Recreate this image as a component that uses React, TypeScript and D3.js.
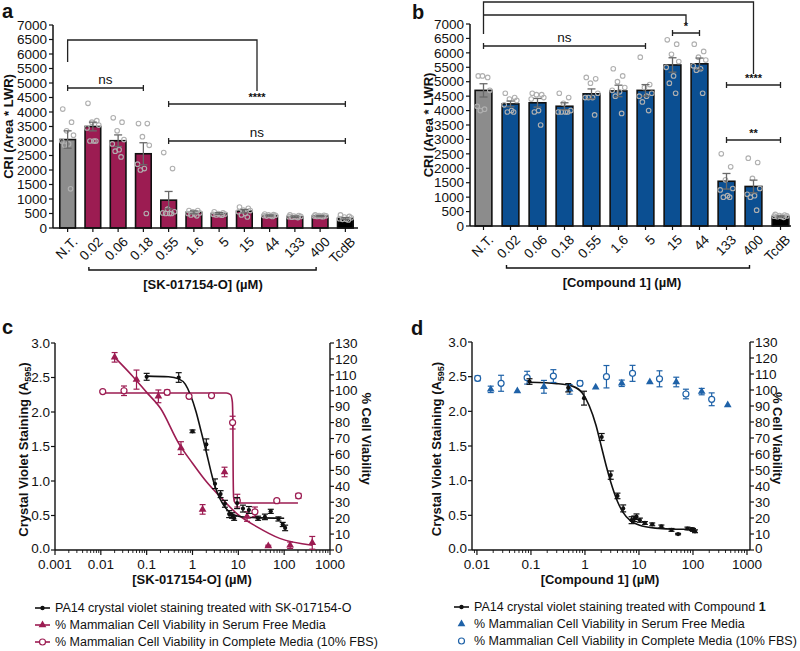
import React from "react";
import * as d3 from "d3";

const FONT = "'Liberation Sans', Arial, Helvetica, sans-serif";
const MAGENTA = "#9c1c52";
const BLUE_BAR = "#0b4f92";
const BLUE = "#1f62a8";
const GREY_BAR = "#8c8c8c";
const ERR_GREY = "#6a6a6a";
const PT_GREY = "#b0b0b0";

// ---------- Panels a / b (bar charts) ----------
const categories = ["N.T.", "0.02", "0.06", "0.18", "0.55", "1.6", "5", "15", "44", "133", "400", "TcdB"];
const barTicks = d3.range(0, 7001, 500);

const meanA = [3050, 3500, 3010, 2560, 960, 540, 500, 580, 430, 390, 410, 330];
const semA = [300, 150, 200, 380, 300, 50, 30, 60, 20, 25, 20, 30];
const pointsA = [
  [4100, 3650, 3350, 3200, 3000, 2900, 2850, 1350],
  [4300, 3700, 3650, 3550, 3450, 3000, 3000, 3000],
  [3800, 3650, 3350, 3050, 2900, 2700, 2650, 2450],
  [3600, 3600, 3150, 2850, 2200, 2050, 2000, 500],
  [2600, 2050, 650, 560, 520, 500, 500, 500],
  [600, 600, 560, 520, 500, 480, 450, 420],
  [560, 520, 500, 480, 470, 460, 450, 440],
  [720, 680, 620, 600, 560, 500, 450, 380],
  [480, 460, 450, 440, 430, 420, 410, 400],
  [450, 430, 410, 400, 390, 380, 370, 360],
  [450, 440, 430, 420, 410, 400, 400, 390],
  [450, 400, 380, 350, 320, 300, 300, 280],
];

const meanB = [4700, 4230, 4270, 4150, 4580, 4680, 4700, 5580, 5620, 1550, 1370, 330];
const semB = [230, 100, 150, 120, 170, 200, 200, 250, 200, 270, 220, 20];
const pointsB = [
  [5200, 5150, 5200, 4700, 4150, 4050, 4000],
  [4600, 4450, 4400, 4350, 4200, 4000, 3950, 3950],
  [4600, 4550, 4550, 4450, 4400, 4000, 3950, 3500],
  [4600, 4450, 4250, 4000, 3950, 3950, 3950, 3950],
  [5150, 5100, 4950, 4600, 4450, 4450, 4450, 3850],
  [5450, 5200, 5000, 4800, 4700, 4650, 4500, 3900],
  [5850, 4900, 4800, 4600, 4500, 4500, 4300, 4000],
  [6450, 6300, 5950, 5700, 5500, 5200, 4950, 4600],
  [6300, 6050, 5850, 5750, 5550, 5450, 5400, 4600],
  [2500, 2050, 1600, 1300, 1250, 1050, 1000, 1000],
  [2350, 2200, 1650, 1300, 1100, 1050, 1000, 550],
  [400, 380, 360, 350, 340, 330, 320, 300],
];

// ---------- Panel c ----------
const cBlackX = [0.1, 0.5, 1.0, 2.0, 3.1, 4.1, 5.1, 6.3, 7.3, 8.1, 9.4, 12.6, 17, 27, 38, 51, 75, 93, 105];
const cBlackY = [2.51, 2.5, 1.72, 1.53, 0.96, 0.81, 0.67, 0.52, 0.5, 0.46, 0.68, 0.6, 0.58, 0.46, 0.48, 0.56, 0.45, 0.37, 0.32];
const cBlackErr = [0.05, 0.07, 0.02, 0.08, 0.07, 0.05, 0.05, 0.05, 0.04, 0.03, 0.08, 0.05, 0.05, 0.03, 0.04, 0.03, 0.03, 0.03, 0.04];
const cBlackFitX = [0.1, 0.3, 0.5, 0.7, 0.9, 1.2, 1.5, 2, 2.5, 3, 4, 5, 7, 10, 20, 100];
const cBlackFitY = [2.52, 2.51, 2.48, 2.4, 2.25, 2.0, 1.75, 1.42, 1.15, 0.95, 0.74, 0.63, 0.53, 0.49, 0.47, 0.46];

const cSerumX = [0.02, 0.06, 0.18, 0.56, 1.66, 5.0, 15.5, 45, 135, 410];
const cSerumY = [121, 107, 96.5, 64, 25.5, 49, 21, 2.5, 3, 4.5];
const cSerumErr = [3, 6, 4, 4, 3, 3, 3, 0.5, 2, 4];
const cSerumFitX = [0.02, 0.05, 0.1, 0.2, 0.5, 1, 2, 4, 10, 25, 80, 410];
const cSerumFitY = [121, 109, 99, 89, 67, 54.5, 43, 33.5, 22, 14.7, 7.3, 3];

const cCompleteX = [0.011, 0.032, 0.28, 0.84, 2.6, 7.5, 9.5, 23, 69, 205];
const cCompleteY = [99.5, 100, 99, 96.5, 97, 80, 31, 24, 31, 34];
const cCompleteErr = [0.5, 3, 1.5, 0.5, 0.5, 4, 4, 3, 0.5, 1.5];
const cCompleteFitX = [0.011, 5.5, 6.8, 7.4, 7.6, 7.7, 7.9, 8.5, 10, 200];
const cCompleteFitY = [98.6, 98.6, 97.5, 93, 80, 50, 33, 29.8, 29.5, 29.5];

// ---------- Panel d ----------
const dBlackX = [0.094, 0.49, 0.96, 2.04, 3.0, 4.0, 5.1, 7.3, 8.2, 9.0, 10.4, 12.9, 17.6, 26, 40, 53, 79, 95, 100, 109];
const dBlackY = [2.43, 2.34, 2.19, 1.63, 1.08, 0.78, 0.6, 0.43, 0.45, 0.48, 0.43, 0.39, 0.37, 0.34, 0.29, 0.23, 0.31, 0.3, 0.29, 0.27];
const dBlackErr = [0.04, 0.06, 0.1, 0.05, 0.06, 0.04, 0.05, 0.05, 0.04, 0.04, 0.03, 0.02, 0.02, 0.02, 0.02, 0.01, 0.02, 0.02, 0.02, 0.02];
const dBlackFitX = [0.094, 0.3, 0.6, 0.9, 1.2, 1.6, 2, 2.5, 3, 4, 5, 7, 10, 20, 50, 100];
const dBlackFitY = [2.42, 2.4, 2.36, 2.26, 2.08, 1.8, 1.5, 1.2, 0.98, 0.7, 0.55, 0.42, 0.36, 0.315, 0.3, 0.3];

const dSerumX = [0.018, 0.056, 0.174, 0.52, 1.58, 4.8, 15.9, 49, 145, 440];
const dSerumY = [100.4, 99.4, 102, 100.4, 101.7, 104.2, 105, 105, 99, 90.6];
const dSerumErr = [2, 0, 4, 3, 0, 2, 0, 3, 2, 0];

const dCompleteX = [0.0103, 0.028, 0.085, 0.26, 0.81, 2.5, 7.6, 24, 74, 222];
const dCompleteY = [107.3, 104.2, 107.7, 108.7, 104.2, 108.3, 110.4, 107, 97.5, 94.2];
const dCompleteErr = [1.5, 5, 4, 4, 1.5, 7, 5, 5, 3, 4];

const jitter = [-5, 4, -1, 6, -6, 1, -3, 3];

type Bracket = { a: number; b: number; y: number; label: string; bold?: boolean };

function BarPanel(props: {
  axisX: number; x0: number; x1: number; yTop: number; yBot: number; axisEnd: number;
  means: number[]; sems: number[]; points: number[][]; color: string;
  yLabelX: number; xTitle: string; xTitleX: number; underBracket: [number, number];
  brackets: Bracket[]; extra: React.ReactNode;
}) {
  const { axisX, x0, x1, yTop, yBot, means, sems, points, color } = props;
  const x = d3.scaleBand<string>().domain(categories).range([x0, x1]).paddingInner(0.38).paddingOuter(0.19);
  const y = d3.scaleLinear().domain([0, 7000]).range([yBot, yTop]);
  const bw = x.bandwidth();
  const cx = (i: number) => (x(categories[i]) as number) + bw / 2;
  const fill = (i: number) => (i === 0 ? GREY_BAR : i === categories.length - 1 ? "#000" : color);
  return (
    <g fontFamily={FONT}>
      {means.map((m, i) => (
        <rect key={"b" + i} x={cx(i) - bw / 2} y={y(m)} width={bw} height={yBot - y(m)} fill={fill(i)} stroke="#111" strokeWidth={1.6} />
      ))}
      {points.map((ps, i) =>
        ps.map((p, j) => (
          <circle key={"p" + i + "-" + j} cx={cx(i) + jitter[j % jitter.length] * bw / 16} cy={y(p)} r={2.3} fill="none" stroke={PT_GREY} strokeWidth={1.1} />
        ))
      )}
      {means.map((m, i) => (
        <g key={"e" + i} stroke={ERR_GREY} strokeWidth={1.3}>
          <line x1={cx(i)} x2={cx(i)} y1={y(m - sems[i])} y2={y(m + sems[i])} />
          <line x1={cx(i) - 4} x2={cx(i) + 4} y1={y(m + sems[i])} y2={y(m + sems[i])} />
          <line x1={cx(i) - 4} x2={cx(i) + 4} y1={y(m - sems[i])} y2={y(m - sems[i])} />
        </g>
      ))}
      <line x1={axisX} x2={axisX} y1={yTop} y2={yBot} stroke="#111" strokeWidth={1.5} />
      <line x1={axisX} x2={props.axisEnd} y1={yBot} y2={yBot} stroke="#111" strokeWidth={1.5} />
      {barTicks.map((t) => (
        <g key={"t" + t}>
          <line x1={axisX - 4} x2={axisX} y1={y(t)} y2={y(t)} stroke="#111" strokeWidth={1.2} />
          <text x={axisX - 6} y={y(t)} dy="0.35em" textAnchor="end" fontSize={13.5} fill="#111">{t}</text>
        </g>
      ))}
      {categories.map((c, i) => (
        <g key={"xl" + i}>
          <line x1={cx(i)} x2={cx(i)} y1={yBot} y2={yBot + 4} stroke="#111" strokeWidth={1.2} />
          <text transform={`translate(${cx(i) + 4},${yBot + 8}) rotate(-45)`} textAnchor="end" dy="0.7em" fontSize={13.5} fill="#111">{c}</text>
        </g>
      ))}
      <text transform={`translate(${props.yLabelX},${(yTop + yBot) / 2}) rotate(-90)`} textAnchor="middle" fontSize={13} fontWeight="bold" fill="#111">CRI (Area * LWR)</text>
      <path d={`M${cx(props.underBracket[0]) - 4},${yBot + 39} V${yBot + 42} H${cx(props.underBracket[1]) - 4} V${yBot + 39}`} fill="none" stroke="#111" strokeWidth={1.4} />
      <text x={props.xTitleX} y={yBot + 61} textAnchor="middle" fontSize={13} fontWeight="bold" fill="#111">{props.xTitle}</text>
      {props.brackets.map((br, k) => (
        <g key={"br" + k}>
          <path d={`M${cx(br.a)},${br.y - 3} V${br.y + 3} M${cx(br.a)},${br.y} H${cx(br.b)} M${cx(br.b)},${br.y - 3} V${br.y + 3}`} fill="none" stroke="#222" strokeWidth={1.3} />
          <text x={(cx(br.a) + cx(br.b)) / 2} y={br.y - (br.bold ? 3 : 4)} textAnchor="middle" fontSize={br.bold ? 11 : 13.5} fontWeight={br.bold ? "bold" : "normal"} fill="#111">{br.label}</text>
        </g>
      ))}
      {props.extra}
    </g>
  );
}

function logTicks(d0: number, d1: number) {
  const out: { v: number; major: boolean }[] = [];
  for (let k = Math.floor(Math.log10(d0)); k <= Math.ceil(Math.log10(d1)); k++) {
    for (let m = 1; m <= 9; m++) {
      const v = m * Math.pow(10, k);
      if (v >= d0 * 0.999 && v <= d1 * 1.001) out.push({ v, major: m === 1 });
    }
  }
  return out;
}

function fmtLog(v: number) {
  if (v >= 1) return String(Math.round(v));
  return String(+v.toPrecision(1));
}

type Series = { xs: number[]; ys: number[]; errs: number[]; axis: "L" | "R"; color: string; marker: "dot" | "tri" | "circ" };
type Fit = { xs: number[]; ys: number[]; axis: "L" | "R"; color: string };

function DosePanel(props: {
  xDomain: [number, number]; xRange: [number, number]; leftX: number; rightX: number; yTop: number; yBot: number;
  series: Series[]; fits: Fit[]; xTitle: string; xTitleX: number; yLabelX: number; rLabelX: number;
}) {
  const { leftX, rightX, yTop, yBot } = props;
  const x = d3.scaleLog().domain(props.xDomain).range(props.xRange);
  const yL = d3.scaleLinear().domain([0, 3]).range([yBot, yTop]);
  const yR = d3.scaleLinear().domain([0, 130]).range([yBot, yTop]);
  const ticks = logTicks(props.xDomain[0], props.xDomain[1]);
  const line = (f: Fit) => {
    const ys = f.axis === "L" ? yL : yR;
    return d3.line<number>().x((_, i) => x(f.xs[i])).y((v) => ys(v)).curve(d3.curveMonotoneX)(f.ys) as string;
  };
  const tri = d3.symbol().type(d3.symbolTriangle).size(26)() as string;
  return (
    <g fontFamily={FONT}>
      <line x1={leftX} x2={leftX} y1={yTop} y2={yBot} stroke="#111" strokeWidth={1.4} />
      <line x1={rightX} x2={rightX} y1={yTop} y2={yBot} stroke="#111" strokeWidth={1.4} />
      <line x1={leftX} x2={rightX} y1={yBot} y2={yBot} stroke="#111" strokeWidth={1.4} />
      {d3.range(0, 3.01, 0.5).map((t) => (
        <g key={"l" + t}>
          <line x1={leftX - 4} x2={leftX} y1={yL(t)} y2={yL(t)} stroke="#111" strokeWidth={1.2} />
          <text x={leftX - 5} y={yL(t) - (t === 0 ? 2 : 0)} dy="0.35em" textAnchor="end" fontSize={13.5} fill="#111">{t.toFixed(1)}</text>
        </g>
      ))}
      {d3.range(0, 131, 10).map((t) => (
        <g key={"r" + t}>
          <line x1={rightX} x2={rightX + 4} y1={yR(t)} y2={yR(t)} stroke="#111" strokeWidth={1.2} />
          <text x={rightX + 5} y={yR(t) - (t === 0 ? 2 : 0)} dy="0.35em" textAnchor="start" fontSize={13.5} fill="#111">{t}</text>
        </g>
      ))}
      {ticks.map((t, i) => (
        <g key={"x" + i}>
          <line x1={x(t.v)} x2={x(t.v)} y1={yBot} y2={yBot + (t.major ? 5 : 3)} stroke="#111" strokeWidth={t.major ? 1.2 : 0.9} />
          {t.major && <text x={x(t.v)} y={yBot + 19} textAnchor="middle" fontSize={13.5} fill="#111">{fmtLog(t.v)}</text>}
        </g>
      ))}
      <text x={props.xTitleX} y={yBot + 34} textAnchor="middle" fontSize={13} fontWeight="bold" fill="#111">{props.xTitle}</text>
      <text transform={`translate(${props.yLabelX},${(yTop + yBot) / 2 + 3}) rotate(-90)`} textAnchor="middle" fontSize={13} fontWeight="bold" fill="#111">
        <tspan>Crystal Violet Staining (A</tspan>
        <tspan fontSize={9} dy={3}>595</tspan>
        <tspan dy={-3}>)</tspan>
      </text>
      <text transform={`translate(${props.rLabelX},${(yTop + yBot) / 2 - 8}) rotate(90)`} textAnchor="middle" fontSize={13} fontWeight="bold" fill="#111">% Cell Viability</text>
      {props.fits.map((f, i) => (
        <path key={"f" + i} d={line(f)} fill="none" stroke={f.color} strokeWidth={1.6} />
      ))}
      {props.series.map((s, si) => {
        const ys = s.axis === "L" ? yL : yR;
        return (
          <g key={"s" + si}>
            {s.xs.map((xv, i) => {
              const px = x(xv);
              const py = ys(s.ys[i]);
              const e = s.errs[i];
              return (
                <g key={i}>
                  {e > 0 && (
                    <g stroke={s.color} strokeWidth={1.2}>
                      <line x1={px} x2={px} y1={ys(s.ys[i] - e)} y2={ys(s.ys[i] + e)} />
                      <line x1={px - 3} x2={px + 3} y1={ys(s.ys[i] + e)} y2={ys(s.ys[i] + e)} />
                      <line x1={px - 3} x2={px + 3} y1={ys(s.ys[i] - e)} y2={ys(s.ys[i] - e)} />
                    </g>
                  )}
                  {s.marker === "dot" && <circle cx={px} cy={py} r={2.1} fill={s.color} />}
                  {s.marker === "tri" && <path d={tri} transform={`translate(${px},${py})`} fill={s.color} />}
                  {s.marker === "circ" && <circle cx={px} cy={py} r={3} fill="#fff" stroke={s.color} strokeWidth={1.2} />}
                </g>
              );
            })}
          </g>
        );
      })}
    </g>
  );
}

function Legend(props: { x: number; y: number; fontSize: number; items: { color: string; marker: "dot" | "tri" | "circ"; line: boolean; label: React.ReactNode }[] }) {
  const tri = d3.symbol().type(d3.symbolTriangle).size(26)() as string;
  return (
    <g fontFamily={FONT}>
      {props.items.map((it, i) => {
        const y = props.y + i * 17;
        const mx = props.x + 7.5;
        return (
          <g key={i}>
            {it.line && <line x1={props.x} x2={props.x + 15} y1={y} y2={y} stroke={it.color} strokeWidth={1.6} />}
            {it.marker === "dot" && <circle cx={mx} cy={y} r={2.2} fill={it.color} />}
            {it.marker === "tri" && <path d={tri} transform={`translate(${mx},${y})`} fill={it.color} />}
            {it.marker === "circ" && <circle cx={mx} cy={y} r={3} fill="#fff" stroke={it.color} strokeWidth={1.2} />}
            <text x={props.x + 20} y={y} dy="0.35em" fontSize={props.fontSize} fill="#111">{it.label}</text>
          </g>
        );
      })}
    </g>
  );
}

export default function App() {
  const bracketsA: Bracket[] = [
    { a: 0, b: 3, y: 88, label: "ns" },
    { a: 4, b: 11, y: 104, label: "****", bold: true },
    { a: 4, b: 11, y: 141, label: "ns" },
  ];
  const bracketsB: Bracket[] = [
    { a: 7, b: 8, y: 33, label: "*", bold: true },
    { a: 0, b: 6, y: 46, label: "ns" },
    { a: 9, b: 11, y: 85, label: "****", bold: true },
    { a: 9, b: 11, y: 140, label: "**", bold: true },
  ];
  const bandA = d3.scaleBand<string>().domain(categories).range([55, 358]).paddingInner(0.38).paddingOuter(0.19);
  const bandB = d3.scaleBand<string>().domain(categories).range([470, 794]).paddingInner(0.38).paddingOuter(0.19);
  const cA = (i: number) => (bandA(categories[i]) as number) + bandA.bandwidth() / 2;
  const cB = (i: number) => (bandB(categories[i]) as number) + bandB.bandwidth() / 2;
  const midA = (cA(4) + cA(11)) / 2;
  const midB = (cB(7) + cB(8)) / 2;

  const extraA = (
    <path d={`M${cA(0)},62 V40 H${midA} V91`} fill="none" stroke="#222" strokeWidth={1.3} />
  );
  const extraB = (
    <g fill="none" stroke="#222" strokeWidth={1.3}>
      <path d={`M${cB(0)},34 V2 H${cB(10)} V74`} />
      <path d={`M${cB(0)},15 H${midB} V24`} />
    </g>
  );

  return (
    <svg width={800} height={651} style={{ display: "block", position: "absolute", left: 0, top: 0, background: "#fff" }}>
      <rect width={800} height={651} fill="#fff" />
      <g fontFamily={FONT} fontWeight="bold" fontSize={20} fill="#111">
        <text x={2} y={18}>a</text>
        <text x={412} y={19}>b</text>
        <text x={2} y={334}>c</text>
        <text x={411} y={335}>d</text>
      </g>
      <BarPanel axisX={53} x0={55} x1={358} yTop={25} yBot={228} axisEnd={358}
        means={meanA} sems={semA} points={pointsA} color={MAGENTA}
        yLabelX={13} xTitle="[SK-017154-O] (µM)" xTitleX={203} underBracket={[1, 10]}
        brackets={bracketsA} extra={extraA} />
      <BarPanel axisX={470} x0={470} x1={794} yTop={24} yBot={226} axisEnd={791}
        means={meanB} sems={semB} points={pointsB} color={BLUE_BAR}
        yLabelX={433} xTitle="[Compound 1] (µM)" xTitleX={622} underBracket={[1, 10]}
        brackets={bracketsB} extra={extraB} />
      <DosePanel xDomain={[0.001, 1000]} xRange={[55, 330]} leftX={55} rightX={330} yTop={343} yBot={550}
        xTitle="[SK-017154-O] (µM)" xTitleX={192} yLabelX={28} rLabelX={362}
        fits={[
          { xs: cSerumFitX, ys: cSerumFitY, axis: "R", color: MAGENTA },
          { xs: cCompleteFitX, ys: cCompleteFitY, axis: "R", color: MAGENTA },
          { xs: cBlackFitX, ys: cBlackFitY, axis: "L", color: "#111" },
        ]}
        series={[
          { xs: cCompleteX, ys: cCompleteY, errs: cCompleteErr, axis: "R", color: MAGENTA, marker: "circ" },
          { xs: cSerumX, ys: cSerumY, errs: cSerumErr, axis: "R", color: MAGENTA, marker: "tri" },
          { xs: cBlackX, ys: cBlackY, errs: cBlackErr, axis: "L", color: "#111", marker: "dot" },
        ]} />
      <DosePanel xDomain={[0.0081, 1137]} xRange={[472, 750]} leftX={472} rightX={750} yTop={342} yBot={550}
        xTitle="[Compound 1] (µM)" xTitleX={600} yLabelX={441} rLabelX={773}
        fits={[{ xs: dBlackFitX, ys: dBlackFitY, axis: "L", color: "#111" }]}
        series={[
          { xs: dSerumX, ys: dSerumY, errs: dSerumErr, axis: "R", color: BLUE, marker: "tri" },
          { xs: dCompleteX, ys: dCompleteY, errs: dCompleteErr, axis: "R", color: BLUE, marker: "circ" },
          { xs: dBlackX, ys: dBlackY, errs: dBlackErr, axis: "L", color: "#111", marker: "dot" },
        ]} />
      <Legend x={35} y={608} fontSize={12.5} items={[
        { color: "#111", marker: "dot", line: true, label: "PA14 crystal violet staining treated with SK-017154-O" },
        { color: MAGENTA, marker: "tri", line: true, label: "% Mammalian Cell Viability in Serum Free Media" },
        { color: MAGENTA, marker: "circ", line: true, label: "% Mammalian Cell Viability in Complete Media (10% FBS)" },
      ]} />
      <Legend x={454} y={607} fontSize={12.5} items={[
        { color: "#111", marker: "dot", line: true, label: <>PA14 crystal violet staining treated with Compound <tspan fontWeight="bold">1</tspan></> },
        { color: BLUE, marker: "tri", line: false, label: "% Mammalian Cell Viability in Serum Free Media" },
        { color: BLUE, marker: "circ", line: false, label: "% Mammalian Cell Viability in Complete Media (10% FBS)" },
      ]} />
    </svg>
  );
}
